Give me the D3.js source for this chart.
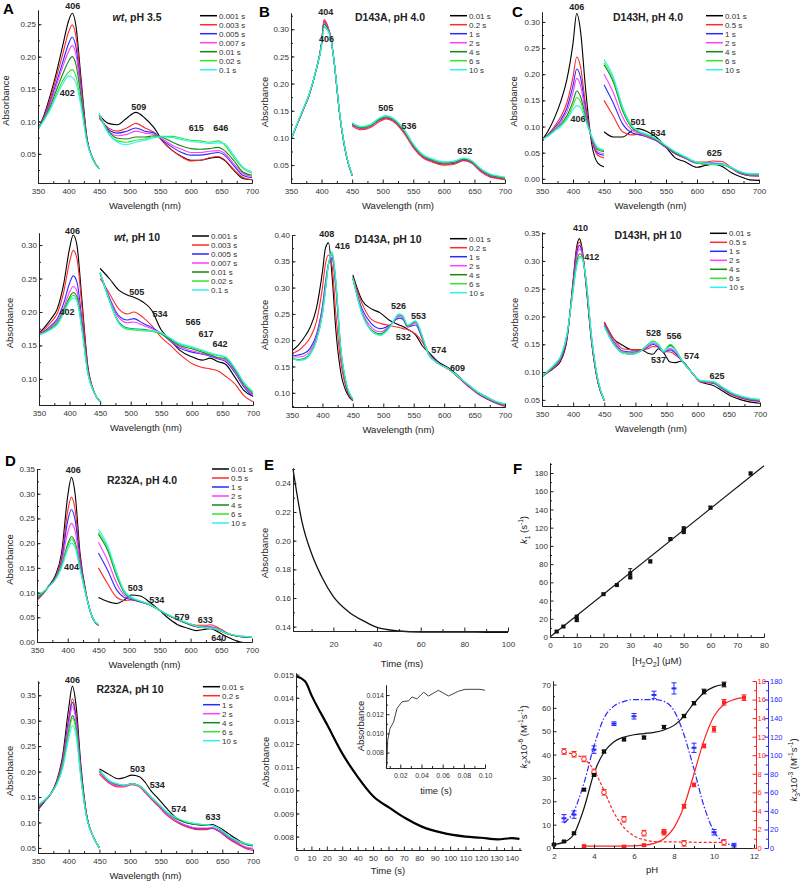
<!DOCTYPE html>
<html>
<head>
<meta charset="utf-8">
<script src="https://cdn.jsdelivr.net/npm/d3@7"></script>
<style>
  body { margin: 0; background: #fff; }
  svg { font-family: "Liberation Sans", Arial, sans-serif; }
</style>
</head>
<body>
<svg id="fig" width="800" height="882"></svg>
<script>
// ---- series colours and legend labels ----
const seriesColors = ["#000000", "#ff2a2a", "#2a2aff", "#ff3cff", "#138a13", "#2ee82e", "#2cf2f2"];
const legendWt = ["0.001 s", "0.003 s", "0.005 s", "0.007 s", "0.01 s", "0.02 s", "0.1 s"];
const legend02 = ["0.01 s", "0.2 s", "1 s", "2 s", "4 s", "6 s", "10 s"];
const legend05 = ["0.01 s", "0.5 s", "1 s", "2 s", "4 s", "6 s", "10 s"];

// ---- A top: wt, pH 3.5 ----
const aTopSoretX = [350, 360, 370, 380, 390, 400, 406, 412, 420, 430, 440, 450];
const aTopSoret = [
  [0.088, 0.110, 0.140, 0.175, 0.215, 0.255, 0.267, 0.248, 0.170, 0.075, 0.042, 0.027],
  [0.088, 0.108, 0.135, 0.168, 0.202, 0.238, 0.249, 0.232, 0.162, 0.074, 0.042, 0.027],
  [0.088, 0.106, 0.130, 0.160, 0.190, 0.220, 0.230, 0.215, 0.154, 0.073, 0.042, 0.027],
  [0.088, 0.105, 0.127, 0.155, 0.183, 0.208, 0.217, 0.204, 0.148, 0.072, 0.042, 0.027],
  [0.088, 0.104, 0.123, 0.148, 0.172, 0.193, 0.200, 0.188, 0.140, 0.071, 0.041, 0.027],
  [0.088, 0.103, 0.120, 0.142, 0.162, 0.176, 0.180, 0.170, 0.130, 0.069, 0.041, 0.027],
  [0.088, 0.102, 0.118, 0.139, 0.157, 0.170, 0.168, 0.160, 0.125, 0.068, 0.041, 0.027]
];
const aTopVisX = [450, 465, 480, 495, 510, 525, 540, 555, 570, 585, 600, 615, 630, 645, 655, 670, 685, 700];
const aTopVis = [
  [.110, .097, .095, .105, .114, .105, .090, .068, .055, .046, .040, .040, .043, .045, .040, .025, .012, .010],
  [.105, .090, .085, .090, .097, .090, .083, .068, .055, .045, .039, .040, .044, .046, .041, .026, .014, .010],
  [.108, .088, .082, .085, .090, .085, .082, .070, .060, .052, .048, .048, .050, .052, .048, .032, .017, .013],
  [.108, .086, .078, .080, .085, .082, .080, .072, .063, .057, .052, .052, .054, .055, .051, .035, .020, .015],
  [.110, .085, .074, .073, .076, .076, .078, .075, .068, .062, .058, .057, .058, .060, .055, .040, .022, .017],
  [.111, .082, .070, .068, .071, .073, .077, .077, .077, .074, .071, .070, .068, .070, .064, .045, .028, .020],
  [.113, .082, .068, .064, .068, .071, .075, .076, .075, .072, .069, .068, .066, .067, .066, .048, .030, .022]
];
const aTopPeaks = [["406", 407, 0.273], ["402", 398, 0.140], ["509", 515, 0.117], ["615", 609, 0.086], ["646", 649, 0.086]];

// ---- B top: D143A, pH 4.0 ----
const bTopSoretX = [350, 360, 370, 380, 390, 400, 404, 410, 415, 420, 430, 440, 450];
const bTopSoret = [
  [0.097, 0.125, 0.152, 0.180, 0.220, 0.274, 0.315, 0.305, 0.285, 0.245, 0.140, 0.070, 0.031],
  [0.097, 0.125, 0.152, 0.180, 0.221, 0.276, 0.318, 0.306, 0.285, 0.245, 0.140, 0.070, 0.031],
  [0.097, 0.125, 0.152, 0.180, 0.220, 0.273, 0.312, 0.303, 0.284, 0.245, 0.140, 0.070, 0.031],
  [0.097, 0.125, 0.152, 0.180, 0.220, 0.274, 0.314, 0.304, 0.285, 0.245, 0.140, 0.070, 0.031],
  [0.097, 0.125, 0.153, 0.181, 0.220, 0.272, 0.309, 0.301, 0.284, 0.246, 0.141, 0.070, 0.031],
  [0.097, 0.126, 0.153, 0.181, 0.220, 0.270, 0.305, 0.299, 0.283, 0.246, 0.141, 0.071, 0.031],
  [0.097, 0.126, 0.154, 0.182, 0.221, 0.269, 0.303, 0.298, 0.283, 0.246, 0.142, 0.071, 0.032]
];
const bTopVisX = [450, 465, 480, 495, 505, 520, 536, 550, 565, 580, 600, 615, 632, 645, 660, 675, 690, 700];
const bTopVis = [
  [.125, .118, .122, .133, .137, .130, .110, .085, .066, .058, .052, .053, .059, .055, .040, .030, .026, .024],
  [.122, .115, .119, .130, .135, .128, .107, .082, .064, .056, .050, .051, .058, .054, .038, .028, .025, .023],
  [.124, .118, .122, .134, .138, .131, .111, .086, .067, .059, .053, .054, .060, .056, .041, .031, .027, .025],
  [.124, .118, .122, .134, .138, .131, .111, .086, .067, .059, .053, .054, .060, .056, .041, .031, .027, .025],
  [.126, .119, .123, .135, .139, .132, .112, .087, .068, .060, .054, .055, .061, .057, .042, .032, .028, .026],
  [.127, .120, .124, .136, .140, .133, .113, .088, .069, .061, .055, .056, .062, .058, .043, .033, .029, .027],
  [.128, .121, .125, .137, .141, .134, .114, .089, .070, .062, .056, .057, .063, .059, .044, .034, .030, .028]
];
const bTopPeaks = [["404", 407, 0.326], ["406", 408, 0.277], ["505", 505, 0.149], ["536", 543, 0.117], ["632", 634, 0.071]];

// ---- C top: D143H, pH 4.0 ----
const cTopSoretX = [350, 360, 370, 380, 390, 400, 406, 412, 420, 430, 440, 450];
const cTopSoret = [
  [0.074, 0.092, 0.116, 0.147, 0.189, 0.259, 0.316, 0.284, 0.176, 0.068, 0.030, 0.023],
  [0.074, 0.085, 0.100, 0.118, 0.145, 0.195, 0.233, 0.215, 0.145, 0.075, 0.045, 0.040],
  [0.075, 0.084, 0.097, 0.112, 0.135, 0.178, 0.210, 0.195, 0.135, 0.077, 0.049, 0.045],
  [0.075, 0.083, 0.095, 0.108, 0.128, 0.165, 0.192, 0.179, 0.128, 0.078, 0.052, 0.048],
  [0.075, 0.083, 0.093, 0.104, 0.120, 0.148, 0.168, 0.158, 0.120, 0.080, 0.056, 0.052],
  [0.075, 0.082, 0.092, 0.102, 0.116, 0.140, 0.155, 0.148, 0.116, 0.081, 0.058, 0.054],
  [0.075, 0.082, 0.091, 0.100, 0.113, 0.132, 0.140, 0.136, 0.112, 0.082, 0.060, 0.056]
];
const cTopVisX = [450, 465, 480, 495, 505, 520, 534, 550, 565, 580, 600, 615, 625, 640, 655, 670, 685, 700];
const cTopVis = [
  [.090, .080, .080, .092, .096, .090, .080, .060, .040, .033, .022, .026, .028, .024, .012, .004, -.002, -.003],
  [.150, .120, .090, .084, .085, .080, .073, .060, .048, .040, .032, .032, .034, .033, .022, .010, .006, .005],
  [.180, .145, .105, .088, .085, .080, .073, .060, .048, .040, .030, .030, .030, .029, .020, .010, .006, .006],
  [.200, .165, .118, .093, .088, .081, .074, .061, .049, .040, .030, .029, .029, .028, .020, .011, .007, .007],
  [.218, .185, .130, .098, .090, .083, .075, .062, .050, .041, .031, .028, .028, .027, .021, .012, .008, .008],
  [.222, .190, .134, .100, .091, .084, .076, .063, .051, .042, .031, .029, .027, .027, .021, .013, .009, .009],
  [.228, .195, .138, .102, .092, .085, .077, .064, .052, .043, .032, .030, .028, .028, .022, .014, .010, .010]
];
const cTopPeaks = [["406", 406, 0.323], ["406", 408, 0.109], ["501", 505, 0.103], ["534", 537, 0.082], ["625", 628, 0.043]];

// ---- A bottom: wt, pH 10 ----
const aBotSoretX = [350, 360, 370, 380, 390, 400, 406, 412, 420, 430, 440, 450];
const aBotSoret = [
  [.168, .178, .190, .205, .240, .295, .315, .300, .220, .118, .081, .066],
  [.167, .175, .185, .198, .228, .275, .292, .280, .210, .116, .081, .066],
  [.166, .172, .180, .190, .212, .243, .254, .245, .190, .112, .080, .066],
  [.166, .171, .178, .187, .205, .230, .238, .231, .182, .110, .080, .066],
  [.166, .170, .176, .184, .201, .222, .229, .223, .178, .109, .080, .066],
  [.166, .170, .175, .183, .199, .219, .225, .219, .176, .108, .080, .066],
  [.166, .169, .174, .181, .197, .216, .221, .216, .174, .107, .080, .066]
];
const aBotVisX = [450, 465, 480, 495, 505, 520, 534, 550, 565, 580, 600, 617, 630, 642, 655, 670, 685, 700];
const aBotVis = [
  [.265, .250, .233, .225, .222, .215, .203, .173, .158, .143, .133, .128, .131, .126, .122, .103, .083, .074],
  [.250, .228, .205, .197, .200, .192, .180, .162, .150, .137, .123, .117, .115, .112, .104, .093, .075, .066],
  [.258, .222, .195, .188, .190, .183, .177, .168, .156, .146, .140, .137, .134, .130, .126, .110, .088, .074],
  [.258, .220, .192, .184, .185, .180, .175, .168, .157, .148, .142, .138, .135, .131, .128, .112, .090, .076],
  [.258, .218, .186, .176, .175, .174, .172, .167, .158, .150, .145, .140, .136, .132, .130, .114, .092, .078],
  [.258, .217, .184, .174, .173, .172, .171, .168, .160, .152, .147, .142, .138, .135, .132, .116, .094, .080],
  [.260, .218, .185, .175, .174, .173, .172, .169, .161, .153, .148, .143, .139, .136, .133, .117, .095, .081]
];
const aBotPeaks = [["406", 405, 0.317], ["402", 396, 0.196], ["505", 510, 0.225], ["534", 548, 0.193],
  ["565", 602, 0.180], ["617", 623, 0.162], ["642", 646, 0.147]];

// ---- B bottom: D143A, pH 10 ----
const bBotSoretX = [350, 360, 370, 380, 390, 400, 405, 410, 416, 422, 430, 440, 450];
const bBotSoret = [
  [.180, .190, .205, .225, .260, .330, .375, .385, .320, .220, .140, .100, .085],
  [.175, .180, .190, .205, .235, .300, .345, .362, .340, .250, .160, .105, .085],
  [.170, .172, .175, .185, .210, .265, .310, .345, .355, .300, .180, .110, .087],
  [.168, .168, .170, .180, .205, .258, .303, .345, .358, .305, .182, .112, .087],
  [.166, .163, .165, .175, .200, .252, .298, .345, .363, .310, .185, .113, .088],
  [.166, .162, .164, .174, .199, .250, .296, .344, .365, .312, .186, .114, .088],
  [.166, .162, .163, .173, .198, .249, .295, .344, .368, .314, .188, .115, .089]
];
const bBotVisX = [450, 465, 480, 495, 510, 526, 532, 540, 553, 565, 574, 590, 609, 625, 640, 655, 670, 685, 700];
const bBotVis = [
  [.324, .276, .260, .252, .238, .229, .226, .221, .210, .188, .178, .159, .146, .130, .114, .101, .092, .083, .077],
  [.320, .270, .240, .232, .228, .224, .222, .220, .212, .195, .176, .157, .143, .127, .112, .098, .088, .080, .074],
  [.318, .260, .232, .222, .228, .242, .240, .225, .229, .200, .176, .157, .144, .128, .113, .099, .089, .081, .076],
  [.318, .255, .225, .216, .226, .245, .243, .226, .233, .202, .175, .157, .144, .128, .114, .100, .090, .082, .077],
  [.318, .252, .220, .212, .225, .248, .245, .227, .235, .203, .174, .156, .144, .129, .115, .101, .091, .083, .078],
  [.318, .251, .219, .210, .224, .249, .246, .228, .236, .204, .174, .156, .144, .129, .115, .101, .091, .083, .078],
  [.318, .250, .218, .209, .223, .250, .247, .229, .237, .205, .174, .156, .144, .129, .115, .102, .092, .084, .079]
];
const bBotPeaks = [["408", 407, 0.397], ["416", 433, 0.373], ["526", 525, 0.259], ["553", 558, 0.240],
  ["532", 533, 0.200], ["574", 591, 0.175], ["609", 622, 0.141]];

// ---- C bottom: D143H, pH 10 ----
const cBotSoretX = [350, 360, 370, 380, 390, 400, 405, 410, 414, 420, 430, 440, 450];
const cBotSoret = [
  [.092, .100, .108, .120, .158, .265, .320, .340, .325, .265, .150, .080, .049],
  [.092, .100, .109, .122, .160, .262, .315, .334, .322, .268, .152, .081, .049],
  [.092, .101, .110, .124, .162, .258, .308, .328, .318, .270, .154, .082, .049],
  [.092, .101, .111, .125, .164, .255, .302, .322, .315, .271, .156, .083, .049],
  [.092, .102, .112, .127, .166, .250, .293, .313, .310, .272, .158, .084, .049],
  [.092, .102, .113, .128, .167, .248, .289, .308, .307, .273, .159, .085, .049],
  [.092, .103, .114, .129, .168, .246, .286, .305, .305, .273, .160, .085, .049]
];
const cBotVisX = [450, 465, 480, 495, 510, 520, 528, 537, 545, 556, 565, 574, 590, 605, 625, 640, 655, 670, 685, 700];
const cBotVis = [
  [.190, .160, .148, .140, .140, .134, .132, .142, .135, .118, .117, .120, .100, .082, .076, .066, .056, .050, .046, .044],
  [.190, .160, .142, .140, .140, .142, .146, .145, .137, .136, .130, .121, .100, .082, .080, .070, .059, .053, .049, .047],
  [.186, .155, .138, .136, .139, .145, .150, .145, .136, .140, .133, .121, .100, .083, .080, .070, .060, .054, .050, .048],
  [.185, .153, .136, .134, .139, .147, .152, .147, .136, .143, .135, .122, .100, .083, .081, .071, .061, .055, .051, .049],
  [.183, .151, .134, .132, .139, .149, .155, .149, .137, .148, .138, .122, .100, .084, .082, .072, .062, .056, .052, .050],
  [.182, .150, .135, .133, .140, .150, .156, .150, .138, .150, .140, .122, .100, .084, .082, .072, .062, .056, .052, .050],
  [.182, .150, .134, .132, .139, .149, .154, .149, .137, .146, .138, .122, .100, .085, .083, .073, .063, .057, .053, .051]
];
const cBotPeaks = [["410", 412, 0.354], ["412", 430, 0.302], ["528", 529, 0.165], ["556", 562, 0.159],
  ["537", 537, 0.117], ["574", 590, 0.123], ["625", 631, 0.087]];

// ---- D top: R232A, pH 4.0 ----
const dTopSoretX = [350, 360, 370, 380, 390, 400, 406, 412, 420, 430, 440, 450];
const dTopSoret = [
  [.085, .098, .115, .135, .180, .295, .333, .300, .180, .098, .050, .034],
  [.086, .098, .114, .132, .170, .265, .293, .268, .172, .097, .050, .034],
  [.087, .099, .114, .130, .164, .245, .268, .247, .166, .096, .050, .034],
  [.088, .099, .113, .129, .160, .222, .240, .225, .160, .095, .050, .035],
  [.090, .100, .113, .128, .155, .198, .213, .202, .152, .094, .050, .035],
  [.092, .101, .113, .127, .153, .193, .208, .197, .150, .094, .050, .035],
  [.095, .102, .113, .126, .150, .187, .200, .191, .147, .093, .050, .035]
];
const dTopVisX = [450, 465, 480, 492, 503, 518, 534, 548, 562, 579, 595, 610, 625, 633, 645, 660, 675, 690, 700];
const dTopVis = [
  [.090, .082, .078, .085, .095, .093, .080, .066, .050, .035, .028, .023, .026, .027, .020, .010, .002, -.002, -.003],
  [.150, .118, .090, .084, .085, .082, .076, .066, .055, .045, .038, .034, .034, .035, .029, .018, .012, .010, .009],
  [.180, .145, .105, .090, .086, .081, .075, .066, .055, .045, .037, .031, .031, .031, .026, .017, .012, .010, .009],
  [.202, .165, .118, .095, .088, .082, .075, .065, .055, .045, .037, .031, .030, .030, .025, .017, .012, .010, .009],
  [.218, .185, .132, .100, .089, .082, .075, .065, .055, .046, .037, .031, .029, .028, .024, .016, .012, .010, .009],
  [.222, .190, .136, .102, .090, .083, .075, .065, .056, .046, .038, .032, .029, .028, .025, .017, .013, .011, .010],
  [.228, .195, .140, .104, .091, .083, .076, .066, .056, .047, .039, .032, .029, .028, .025, .017, .013, .011, .010]
];
const dTopPeaks = [["406", 409, 0.341], ["404", 406, 0.145], ["503", 510, 0.103], ["534", 545, 0.079],
  ["579", 586, 0.044], ["633", 624, 0.038], ["640", 646, 0.002]];

// ---- D bottom: R232A, pH 10 ----
const dBotSoretX = [350, 360, 370, 380, 390, 400, 406, 412, 420, 430, 440, 450];
const dBotSoret = [
  [.125, .140, .155, .180, .230, .325, .368, .330, .210, .110, .072, .050],
  [.127, .141, .155, .178, .224, .305, .343, .310, .200, .108, .072, .050],
  [.128, .141, .155, .177, .221, .300, .336, .305, .198, .108, .072, .050],
  [.130, .142, .155, .176, .218, .293, .328, .298, .195, .107, .072, .050],
  [.132, .143, .155, .175, .212, .280, .310, .286, .190, .106, .072, .050],
  [.133, .143, .155, .174, .209, .275, .305, .281, .188, .106, .072, .050],
  [.135, .144, .155, .173, .205, .265, .290, .270, .184, .105, .072, .050]
];
const dBotVisX = [450, 465, 480, 490, 503, 515, 525, 534, 545, 560, 574, 590, 610, 625, 633, 645, 660, 675, 690, 700];
const dBotVis = [
  [.205, .195, .186, .188, .193, .190, .178, .162, .148, .127, .110, .100, .096, .095, .096, .090, .078, .066, .057, .055],
  [.195, .178, .170, .170, .174, .170, .158, .146, .133, .114, .102, .092, .086, .086, .088, .082, .068, .057, .048, .045],
  [.200, .180, .173, .172, .176, .172, .160, .148, .135, .116, .104, .094, .088, .088, .089, .083, .070, .059, .050, .048],
  [.199, .180, .172, .171, .175, .171, .160, .148, .135, .116, .104, .095, .089, .089, .090, .084, .071, .060, .051, .049],
  [.203, .182, .175, .173, .176, .172, .162, .150, .137, .119, .108, .100, .095, .094, .094, .087, .073, .063, .056, .054],
  [.203, .183, .175, .173, .176, .172, .162, .150, .138, .120, .110, .102, .097, .095, .094, .088, .074, .064, .058, .056],
  [.203, .183, .176, .173, .176, .172, .162, .150, .138, .120, .110, .102, .097, .095, .094, .088, .074, .064, .058, .056]
];
const dBotPeaks = [["406", 406, 0.374], ["503", 512, 0.200], ["534", 544, 0.167], ["574", 579, 0.120], ["633", 635, 0.105]];

// ---- E: decay traces ----
const eTopT = [1.5, 5.5, 10, 14.6, 20, 26.9, 34.5, 40, 50, 60, 70, 80, 90, 100];
const eTopA = [0.250, 0.214, 0.191, 0.175, 0.161, 0.1505, 0.1435, 0.1395, 0.137, 0.1362, 0.1363, 0.1362, 0.1361, 0.136];
const eBotT = [0, 6, 10.4, 20.5, 30.5, 40.6, 50.3, 61, 70.8, 81.6, 94.6, 110, 120, 131, 140, 145];
const eBotA = [0.01493, 0.0147, 0.01406, 0.0128, 0.01154, 0.01053, 0.00973, 0.00923, 0.0088, 0.00843,
  0.00817, 0.0080, 0.00795, 0.00788, 0.00793, 0.0079];
const insetT = [0.0065, 0.0072, 0.0081, 0.0103, 0.0137, 0.0169, 0.0216, 0.0278, 0.031, 0.0357, 0.042,
  0.0467, 0.056, 0.0655, 0.0749, 0.0812, 0.0906, 0.0953, 0.10];
const insetA = [0.0064, 0.0065, 0.0093, 0.0105, 0.0112, 0.0126, 0.0133, 0.0134, 0.0138, 0.0136, 0.0143,
  0.0139, 0.0145, 0.0139, 0.0144, 0.0146, 0.0146, 0.0146, 0.0145];

// ---- F top: k1 vs [H2O2] ----
const fTopConc = [2.5, 5, 10, 10, 20, 25, 30, 30, 37.5, 45, 50, 50, 60, 75];
const fTopK1 = [6, 11.5, 22, 18.5, 47, 57, 70, 65.5, 83, 107.5, 119, 115.5, 142, 179.5];
const fTopErr = [1, 1, 2, 1.5, 1, 1, 5, 1.5, 1.5, 1.5, 2, 2, 1.5, 1.5];
const fTopFitX = [0, 80];
const fTopFitY = [0, 188];

// ---- F bottom: pH profiles ----
const fK2pH = [2, 2.5, 3, 3.5, 4, 4.5, 5.5, 6.5, 7.5, 8.5, 9, 9.5, 10.5];
const fK2 = [1.5, 2.8, 6.3, 25, 31.3, 41.3, 46.5, 47.3, 51.8, 56.5, 62, 67, 70];
const fK2Err = [0.3, 0.3, 0.5, 0.5, 0.6, 0.6, 0.6, 0.6, 0.7, 0.7, 0.7, 1, 1];
const fK2FitPH = [2, 2.5, 3, 3.5, 4, 4.5, 5, 5.5, 6, 6.5, 7, 7.5, 8, 8.5, 9, 9.5, 10, 10.5];
const fK2Fit = [1.5, 2.5, 6, 17, 32, 41, 45.5, 47.5, 48.5, 49, 49.5, 50.5, 52.5, 56.5, 62, 66.5, 69, 70];

const fRedPH = [3.5, 5.5, 6.5, 7.5, 8.5, 9, 9.5, 10, 10.5, 11.5];
const fRed = [0.2, 0.15, 0.3, 1.7, 4.5, 6.8, 11, 12.8, 15.7, 16.2];
const fRedErr = [0.1, 0.1, 0.1, 0.1, 0.2, 0.2, 0.2, 0.3, 0.3, 0.3];
const fRedFitPH = [3.5, 4.5, 5.5, 6.5, 7, 7.5, 8, 8.5, 9, 9.5, 10, 10.5, 11, 11.5];
const fRedFit = [0.2, 0.2, 0.2, 0.3, 0.5, 1, 2.2, 4.5, 8, 11.6, 14.2, 15.5, 16, 16.2];

const fOpenPH = [2.5, 3, 3.5, 4, 4.5, 5.5, 6.5, 7.5, 8.5, 10.5];
const fOpen = [10.4, 10.1, 9.6, 8.2, 6.0, 3.1, 1.6, 1.7, 0.5, 0.6];
const fOpenFitPH = [2.5, 3, 3.5, 4, 4.5, 5, 5.5, 6, 6.5, 7, 8, 9, 10, 10.5];
const fOpenFit = [10.3, 10.1, 9.6, 8.4, 6.2, 3.8, 2.2, 1.3, 0.9, 0.7, 0.65, 0.62, 0.6, 0.6];

const fBluePH = [2.5, 3, 4, 5, 6, 7, 8, 9, 10, 11];
const fBlue = [32, 36, 106, 134, 142, 165, 172, 108, 17, 3];
const fBlueErr = [4, 4, 4, 2, 3, 4, 6, 5, 3, 2];
const fBlueFitPH = [2.5, 3, 3.5, 4, 4.5, 5, 5.5, 6, 6.5, 7, 7.5, 8, 8.5, 9, 9.5, 10, 10.5, 11];
const fBlueFit = [27, 40, 70, 110, 140, 153, 158, 160, 160, 160, 158, 148, 122, 85, 45, 18, 6, 3];

// =====================================================================
const svg = d3.select("#fig");
const ink = "#222";

function styleAxis(sel, color, fs) {
  sel.attr("font-family", null).attr("font-size", null);
  sel.select(".domain").attr("stroke", color || ink);
  sel.selectAll(".tick line").attr("stroke", color || ink);
  sel.selectAll("text").attr("font-size", fs || 8).attr("fill", color || "#333");
}

// ticks point into the plot, like the original
function addAxis(g, axisFn, scale, pos, major, minor, fmt, o = {}) {
  const horiz = axisFn === d3.axisBottom;
  const tr = horiz ? `translate(0,${pos})` : `translate(${pos},0)`;
  if (minor) {
    g.append("g").attr("transform", tr)
      .call(axisFn(scale).tickValues(minor).tickSizeInner(-2).tickSizeOuter(0).tickFormat(""))
      .call(s => styleAxis(s, o.color));
  }
  g.append("g").attr("transform", tr)
    .call(axisFn(scale).tickValues(major).tickSizeInner(-3.5).tickSizeOuter(0)
      .tickPadding(o.pad ?? (horiz ? 5 : 2)).tickFormat(fmt))
    .call(s => styleAxis(s, o.color, o.fs));
}

function ticksIn(dom, step) {
  const out = [];
  for (let k = Math.ceil(dom[0] / step - 1e-6); k * step <= dom[1] + 1e-9; k++) out.push(+(k * step).toFixed(4));
  return out;
}

// rich text with italic / sub / sup parts
function rich(sel, parts, fs) {
  let shift = 0;
  parts.forEach(p => {
    const ts = sel.append("tspan").text(p.t);
    let target = 0;
    if (p.sub) target = fs * 0.3;
    if (p.sup) target = -fs * 0.4;
    if (p.sub || p.sup) ts.attr("font-size", fs * 0.7);
    if (p.it) ts.attr("font-style", "italic");
    if (target !== shift) ts.attr("dy", target - shift);
    shift = target;
  });
}

function vLabel(x, y, parts, fs, color) {
  const t = svg.append("text").attr("transform", `translate(${x},${y}) rotate(-90)`)
    .attr("text-anchor", "middle").attr("font-size", fs).attr("fill", color || "#222");
  if (typeof parts === "string") t.text(parts); else rich(t, parts, fs);
  return t;
}

function letter(ch, x, y) {
  svg.append("text").attr("x", x).attr("y", y).attr("font-size", 15).attr("font-weight", "bold").text(ch);
}

let clipN = 0;
function spectrum(p) {
  const g = svg.append("g");
  const x = d3.scaleLinear().domain([350, 700]).range([p.left, p.right]);
  const y = d3.scaleLinear().domain(p.yDom).range([p.bottom, p.top]);
  const cid = "clip" + (clipN++);
  g.append("clipPath").attr("id", cid).append("rect")
    .attr("x", p.left).attr("y", p.top - 1).attr("width", p.right - p.left + 2).attr("height", p.bottom - p.top + 1);
  const line = d3.line().x(d => x(d[0])).y(d => y(d[1])).curve(d3.curveMonotoneX);
  const plot = g.append("g").attr("clip-path", `url(#${cid})`);
  [[p.soretX, p.soret], [p.visX, p.vis]].forEach(([wx, sets]) => {
    sets.forEach((vals, i) => {
      plot.append("path").datum(wx.map((w, j) => [w, vals[j]]))
        .attr("d", line).attr("fill", "none")
        .attr("stroke", seriesColors[i]).attr("stroke-width", 1.1);
    });
  });

  addAxis(g, d3.axisBottom, x, p.bottom, d3.range(350, 701, 50), d3.range(375, 700, 50), d3.format("d"));
  addAxis(g, d3.axisLeft, y, p.left, ticksIn(p.yDom, 0.05), ticksIn(p.yDom, 0.025), d3.format(".2f"));

  g.append("text").attr("x", (p.left + p.right) / 2).attr("y", p.bottom + 26)
    .attr("text-anchor", "middle").attr("font-size", 9.5).attr("fill", "#222").text("Wavelength (nm)");
  vLabel(p.ylabX, (p.top + p.bottom) / 2 + 4, "Absorbance", 9.5);

  const t = g.append("text").attr("x", p.tx).attr("y", p.ty).attr("text-anchor", "middle")
    .attr("font-weight", "bold").attr("font-size", 10.5).attr("fill", "#222");
  if (p.italic) t.append("tspan").attr("font-style", "italic").text(p.italic);
  t.append("tspan").text(p.title);

  p.legend.forEach((lab, i) => {
    const yy = p.legY + i * 9;
    g.append("line").attr("x1", p.legX).attr("x2", p.legX + 17).attr("y1", yy).attr("y2", yy)
      .attr("stroke", seriesColors[i]).attr("stroke-width", 1.5);
    g.append("text").attr("x", p.legX + 19).attr("y", yy).attr("dy", "0.35em")
      .attr("font-size", 8).attr("fill", "#333").text(lab);
  });

  p.peaks.forEach(([lab, w, a]) => {
    g.append("text").attr("x", x(w)).attr("y", y(a)).attr("text-anchor", "middle")
      .attr("font-size", 9).attr("font-weight", "bold").attr("fill", "#222").text(lab);
  });
  if (p.letter) letter(p.letter, p.lx, p.ly);
}

// ---------------- spectral panels ----------------
spectrum({ left: 38, right: 252, top: 10, bottom: 183, yDom: [0.005, 0.272],
  soretX: aTopSoretX, soret: aTopSoret, visX: aTopVisX, vis: aTopVis, peaks: aTopPeaks,
  italic: "wt", title: ", pH 3.5", tx: 137, ty: 21, legend: legendWt, legX: 200, legY: 15.7,
  ylabX: 9, letter: "A", lx: 3, ly: 14 });
spectrum({ left: 291, right: 505, top: 13, bottom: 183, yDom: [0.017, 0.33],
  soretX: bTopSoretX, soret: bTopSoret, visX: bTopVisX, vis: bTopVis, peaks: bTopPeaks,
  title: "D143A, pH 4.0", tx: 390, ty: 21, legend: legend02, legX: 450, legY: 15.7,
  ylabX: 268, letter: "B", lx: 259, ly: 17 });
spectrum({ left: 542, right: 759, top: 12, bottom: 183, yDom: [-0.008, 0.319],
  soretX: cTopSoretX, soret: cTopSoret, visX: cTopVisX, vis: cTopVis, peaks: cTopPeaks,
  title: "D143H, pH 4.0", tx: 648, ty: 21, legend: legend05, legX: 706, legY: 15.7,
  ylabX: 517, letter: "C", lx: 512, ly: 17 });

spectrum({ left: 39, right: 253, top: 233, bottom: 405, yDom: [0.061, 0.318],
  soretX: aBotSoretX, soret: aBotSoret, visX: aBotVisX, vis: aBotVis, peaks: aBotPeaks,
  italic: "wt", title: ", pH 10", tx: 137, ty: 241, legend: legendWt, legX: 192, legY: 236,
  ylabX: 13 });
spectrum({ left: 292, right: 505, top: 235, bottom: 407, yDom: [0.073, 0.40],
  soretX: bBotSoretX, soret: bBotSoret, visX: bBotVisX, vis: bBotVis, peaks: bBotPeaks,
  title: "D143A, pH 10", tx: 388, ty: 243, legend: legend02, legX: 450, legY: 238.7,
  ylabX: 268 });
spectrum({ left: 542, right: 760, top: 232, bottom: 406, yDom: [0.039, 0.352],
  soretX: cBotSoretX, soret: cBotSoret, visX: cBotVisX, vis: cBotVis, peaks: cBotPeaks,
  title: "D143H, pH 10", tx: 648, ty: 239, legend: legend05, legX: 710, legY: 233.3,
  ylabX: 518 });

spectrum({ left: 37, right: 252, top: 469, bottom: 642, yDom: [0, 0.35],
  soretX: dTopSoretX, soret: dTopSoret, visX: dTopVisX, vis: dTopVis, peaks: dTopPeaks,
  title: "R232A, pH 4.0", tx: 142, ty: 484, legend: legend05, legX: 212, legY: 469,
  ylabX: 13, letter: "D", lx: 5, ly: 466 });
spectrum({ left: 38, right: 253, top: 681, bottom: 853, yDom: [0.040, 0.378],
  soretX: dBotSoretX, soret: dBotSoret, visX: dBotVisX, vis: dBotVis, peaks: dBotPeaks,
  title: "R232A, pH 10", tx: 130, ty: 693, legend: legend02, legX: 203, legY: 686.7,
  ylabX: 13 });

// ---------------- E top ----------------
{
  const g = svg.append("g");
  const x = d3.scaleLinear().domain([1.5, 100]).range([293, 508]);
  const y = d3.scaleLinear().domain([0.137, 0.2507]).range([631, 468]);
  g.append("path").datum(eTopT.map((t, i) => [t, eTopA[i]]))
    .attr("d", d3.line().x(d => x(d[0])).y(d => y(d[1])).curve(d3.curveMonotoneX))
    .attr("fill", "none").attr("stroke", "#111").attr("stroke-width", 1.3);
  addAxis(g, d3.axisBottom, x, 631, [20, 40, 60, 80, 100], [10, 30, 50, 70, 90], d3.format("d"), { pad: 10 });
  addAxis(g, d3.axisLeft, y, 293, ticksIn([0.137, 0.2507], 0.02), ticksIn([0.137, 0.2507], 0.01), d3.format(".2f"));
  g.append("text").attr("x", 402).attr("y", 667).attr("text-anchor", "middle").attr("font-size", 9.5).attr("fill", "#222").text("Time (ms)");
  vLabel(268, 553, "Absorbance", 9.5);
  letter("E", 264, 470);
}

// ---------------- E bottom + inset ----------------
{
  const g = svg.append("g");
  const x = d3.scaleLinear().domain([0, 146]).range([296, 521]);
  const y = d3.scaleLinear().domain([0.00742, 0.01507]).range([850, 673]);
  g.append("path").datum(eBotT.map((t, i) => [t, eBotA[i]]))
    .attr("d", d3.line().x(d => x(d[0])).y(d => y(d[1])).curve(d3.curveMonotoneX))
    .attr("fill", "none").attr("stroke", "#000").attr("stroke-width", 2.2);
  addAxis(g, d3.axisBottom, x, 850, d3.range(0, 141, 10), d3.range(5, 146, 10), d3.format("d"));
  addAxis(g, d3.axisLeft, y, 296, ticksIn([0.00742, 0.01507], 0.001), ticksIn([0.00742, 0.01507], 0.0005), d3.format(".3f"));
  g.append("text").attr("x", 388).attr("y", 874).attr("text-anchor", "middle").attr("font-size", 9.5).attr("fill", "#222").text("Time (s)");
  vLabel(269, 762, "Absorbance", 9.5);

  const ix = d3.scaleLinear().domain([0.0065, 0.10]).range([386, 485]);
  const iy = d3.scaleLinear().domain([0.00639, 0.01505]).range([768, 685]);
  g.append("path").datum(insetT.map((t, i) => [t, insetA[i]]))
    .attr("d", d3.line().x(d => ix(d[0])).y(d => iy(d[1])))
    .attr("fill", "none").attr("stroke", "#444").attr("stroke-width", 1);
  addAxis(g, d3.axisBottom, ix, 768, [0.02, 0.04, 0.06, 0.08, 0.10], [0.01, 0.03, 0.05, 0.07, 0.09], d3.format(".2f"), { fs: 7 });
  addAxis(g, d3.axisLeft, iy, 386, [0.008, 0.010, 0.012, 0.014], [0.007, 0.009, 0.011, 0.013], d3.format(".3f"), { fs: 7 });
  g.append("text").attr("x", 436).attr("y", 794).attr("text-anchor", "middle").attr("font-size", 9.5).attr("fill", "#222").text("time (s)");
  vLabel(364, 726, "Absorbance", 9.5);
}

// ---------------- F top ----------------
{
  const g = svg.append("g");
  const x = d3.scaleLinear().domain([0, 80]).range([550, 764]);
  const y = d3.scaleLinear().domain([0, 191]).range([637, 463]);
  g.append("path").datum(fTopFitX.map((c, i) => [c, fTopFitY[i]]))
    .attr("d", d3.line().x(d => x(d[0])).y(d => y(d[1])))
    .attr("stroke", "#111").attr("stroke-width", 1.1);
  fTopConc.forEach((c, i) => {
    const cx = x(c), v = fTopK1[i], e = fTopErr[i];
    g.append("line").attr("x1", cx).attr("x2", cx).attr("y1", y(v - e)).attr("y2", y(v + e)).attr("stroke", "#111");
    [v - e, v + e].forEach(vv => g.append("line").attr("x1", cx - 2).attr("x2", cx + 2)
      .attr("y1", y(vv)).attr("y2", y(vv)).attr("stroke", "#111"));
    g.append("rect").attr("x", cx - 2).attr("y", y(v) - 2).attr("width", 4).attr("height", 4).attr("fill", "#111");
  });
  addAxis(g, d3.axisBottom, x, 637, d3.range(0, 81, 10), d3.range(5, 80, 10), d3.format("d"));
  addAxis(g, d3.axisLeft, y, 550, d3.range(0, 181, 20), d3.range(10, 191, 20), d3.format("d"));
  const xl = g.append("text").attr("x", 657).attr("y", 664).attr("text-anchor", "middle").attr("font-size", 9.5).attr("fill", "#222");
  rich(xl, [{ t: "[H" }, { t: "2", sub: true }, { t: "O" }, { t: "2", sub: true }, { t: "] (μM)" }], 9.5);
  vLabel(527, 530, [{ t: "k", it: true }, { t: "1", sub: true }, { t: " (s" }, { t: "-1", sup: true }, { t: ")" }], 9.5);
  letter("F", 513, 474);
}

// ---------------- F bottom ----------------
{
  const g = svg.append("g");
  const red = "#ff2222", blue = "#2828ff";
  const x = d3.scaleLinear().domain([1.95, 12.1]).range([553, 756]);
  const yL = d3.scaleLinear().domain([0, 71.5]).range([848, 681]);
  const yR = d3.scaleLinear().domain([0, 18]).range([848, 681]);
  const yB = d3.scaleLinear().domain([0, 180]).range([848, 681]);
  const mk = (ys) => d3.line().x(d => x(d[0])).y(d => ys(d[1])).curve(d3.curveMonotoneX);

  g.append("path").datum(fBlueFitPH.map((p, i) => [p, fBlueFit[i]])).attr("d", mk(yB))
    .attr("fill", "none").attr("stroke", blue).attr("stroke-width", 1.2).attr("stroke-dasharray", "6,2,1.5,2");
  g.append("path").datum(fOpenFitPH.map((p, i) => [p, fOpenFit[i]])).attr("d", mk(yR))
    .attr("fill", "none").attr("stroke", red).attr("stroke-width", 1.2).attr("stroke-dasharray", "3,2");
  g.append("path").datum(fRedFitPH.map((p, i) => [p, fRedFit[i]])).attr("d", mk(yR))
    .attr("fill", "none").attr("stroke", red).attr("stroke-width", 1.2);
  g.append("path").datum(fK2FitPH.map((p, i) => [p, fK2Fit[i]])).attr("d", mk(yL))
    .attr("fill", "none").attr("stroke", "#111").attr("stroke-width", 1.2);

  function errBar(cx, lo, hi, col) {
    g.append("line").attr("x1", cx).attr("x2", cx).attr("y1", lo).attr("y2", hi).attr("stroke", col);
    [lo, hi].forEach(yy => g.append("line").attr("x1", cx - 2.5).attr("x2", cx + 2.5).attr("y1", yy).attr("y2", yy).attr("stroke", col));
  }
  fBluePH.forEach((p, i) => {
    errBar(x(p), yB(fBlue[i] - fBlueErr[i]), yB(fBlue[i] + fBlueErr[i]), blue);
    g.append("rect").attr("x", x(p) - 2.5).attr("y", yB(fBlue[i]) - 1).attr("width", 5).attr("height", 2).attr("fill", blue);
  });
  fOpenPH.forEach((p, i) => {
    errBar(x(p), yR(fOpen[i] - 0.3), yR(fOpen[i] + 0.3), red);
    g.append("circle").attr("cx", x(p)).attr("cy", yR(fOpen[i])).attr("r", 2.3)
      .attr("fill", "#fff").attr("stroke", red).attr("stroke-width", 1);
  });
  fRedPH.forEach((p, i) => {
    errBar(x(p), yR(fRed[i] - fRedErr[i]), yR(fRed[i] + fRedErr[i]), red);
    g.append("rect").attr("x", x(p) - 2).attr("y", yR(fRed[i]) - 2).attr("width", 4).attr("height", 4).attr("fill", red);
  });
  fK2pH.forEach((p, i) => {
    errBar(x(p), yL(fK2[i] - fK2Err[i]), yL(fK2[i] + fK2Err[i]), "#111");
    g.append("rect").attr("x", x(p) - 2).attr("y", yL(fK2[i]) - 2).attr("width", 4).attr("height", 4).attr("fill", "#111");
  });

  addAxis(g, d3.axisBottom, x, 848, d3.range(2, 13, 2), d3.range(3, 12, 2), d3.format("d"));
  addAxis(g, d3.axisLeft, yL, 553, d3.range(0, 71, 10), d3.range(5, 71, 10), d3.format("d"));
  addAxis(g, d3.axisRight, yR, 756, d3.range(0, 19, 2), d3.range(1, 18, 2), d3.format("d"), { color: red, fs: 7.5, pad: 1.5 });
  addAxis(g, d3.axisRight, yB, 768, d3.range(0, 181, 20), d3.range(10, 180, 20), d3.format("d"), { color: blue, fs: 7.5 });

  g.append("text").attr("x", 652).attr("y", 873).attr("text-anchor", "middle").attr("font-size", 9.5).attr("fill", "#222").text("pH");
  vLabel(527, 737, [{ t: "k", it: true }, { t: "2", sub: true }, { t: "x10" }, { t: "-6", sup: true },
    { t: " (M" }, { t: "-1", sup: true }, { t: "s" }, { t: "-1", sup: true }, { t: ")" }], 9.5);
  vLabel(797, 770, [{ t: "k", it: true }, { t: "3", sub: true }, { t: "x10" }, { t: "-3", sup: true },
    { t: " (M" }, { t: "-1", sup: true }, { t: "s" }, { t: "-1", sup: true }, { t: ")" }], 9.5);
}
</script>
</body>
</html>
